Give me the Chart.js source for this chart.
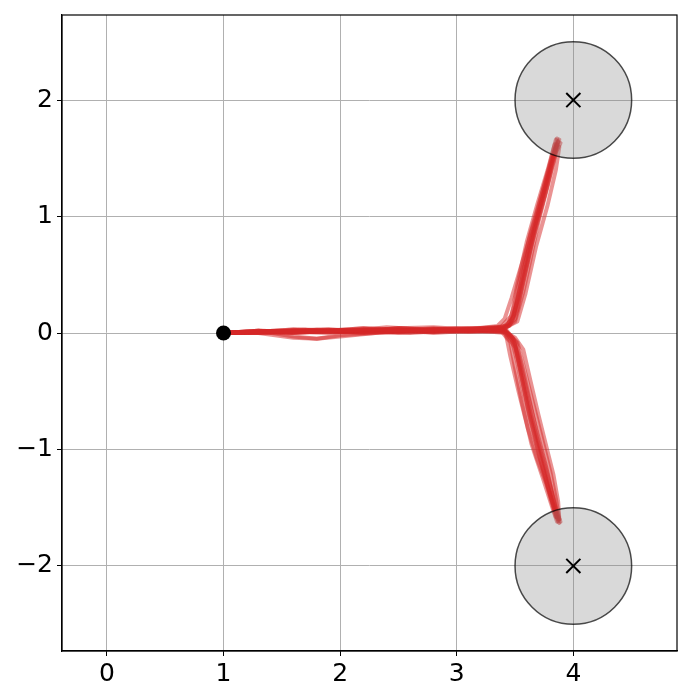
<!DOCTYPE html>
<html>
<head>
<meta charset="utf-8">
<script src="https://cdn.jsdelivr.net/npm/chart.js@4.4.1/dist/chart.umd.min.js"></script>
<style>
html,body{margin:0;padding:0;background:#fff;}
canvas{display:block;}
</style>
</head>
<body>
<canvas id="c" width="700" height="700"></canvas>
<script>
// ---- data ----
const xTicks = [0, 1, 2, 3, 4];
const yTicks = [-2, -1, 0, 1, 2];
const xRange = [-0.385, 4.889];
const yRange = [-2.73, 2.73];

const startPoint = [1, 0];
const goalX = [4, 4];
const goalY = [2, -2];
const goalRadius = 0.5;

// trajectories heading to the upper goal
const upRun1 = [[1,0],[1.25,0.01],[1.5,0.02],[1.75,0.01],[2.0,0.02],[2.3,0.03],[2.6,0.02],[2.9,0.03],[3.2,0.03],[3.42,0.04],[3.5,0.12],[3.56,0.4],[3.64,0.75],[3.72,1.05],[3.8,1.35],[3.86,1.6],[3.88,1.66]];
const upRun2 = [[1,0],[1.3,0.02],[1.6,0.0],[1.9,0.02],[2.2,0.04],[2.5,0.02],[2.8,0.04],[3.1,0.02],[3.38,0.05],[3.47,0.15],[3.52,0.42],[3.6,0.78],[3.69,1.1],[3.78,1.4],[3.84,1.62]];
const upRun3 = [[1,0],[1.3,0.0],[1.6,-0.04],[1.8,-0.05],[2.0,-0.02],[2.3,0.0],[2.6,0.03],[2.9,0.02],[3.2,0.04],[3.45,0.06],[3.52,0.2],[3.59,0.52],[3.67,0.88],[3.76,1.2],[3.83,1.5],[3.87,1.64]];
const upRun4 = [[1,0],[1.2,0.01],[1.5,0.01],[1.8,0.03],[2.1,0.02],[2.4,0.05],[2.7,0.03],[3.0,0.04],[3.3,0.03],[3.44,0.07],[3.49,0.22],[3.55,0.5],[3.63,0.85],[3.73,1.2],[3.81,1.48],[3.86,1.62]];
const upRun5 = [[1,0],[1.4,0.01],[1.7,0.03],[2.0,0.01],[2.3,0.02],[2.6,0.0],[2.9,0.02],[3.2,0.02],[3.4,0.03],[3.5,0.1],[3.57,0.35],[3.63,0.62],[3.7,0.95],[3.79,1.3],[3.85,1.55],[3.89,1.63]];
const upRun6 = [[1,0],[1.3,0.01],[1.6,0.02],[1.9,0.03],[2.2,0.01],[2.5,0.04],[2.8,0.02],[3.1,0.03],[3.35,0.06],[3.41,0.12],[3.47,0.3],[3.56,0.6],[3.68,1.0],[3.8,1.46],[3.85,1.66]];
const upRun7 = [[1,0],[1.3,0.02],[1.6,0.01],[1.9,0.02],[2.2,0.03],[2.5,0.01],[2.8,0.03],[3.1,0.04],[3.4,0.04],[3.52,0.1],[3.59,0.34],[3.68,0.74],[3.78,1.1],[3.85,1.4],[3.88,1.6]];
const upRun8 = [[1,0],[1.3,0.0],[1.6,0.02],[1.9,0.01],[2.2,0.02],[2.5,0.03],[2.8,0.01],[3.1,0.02],[3.38,0.03],[3.46,0.08],[3.53,0.3],[3.6,0.6],[3.68,0.95],[3.77,1.28],[3.84,1.55],[3.86,1.67]];
const upRun9 = [[1,0],[1.3,0.01],[1.6,0.0],[1.9,0.02],[2.2,0.02],[2.5,0.04],[2.8,0.05],[3.1,0.03],[3.42,0.05],[3.49,0.15],[3.55,0.42],[3.62,0.74],[3.71,1.08],[3.8,1.4],[3.85,1.6]];
const upRun10 = [[1,0],[1.3,0.01],[1.6,0.03],[1.9,0.02],[2.2,0.0],[2.5,0.02],[2.8,0.03],[3.1,0.04],[3.4,0.05],[3.48,0.12],[3.54,0.38],[3.61,0.7],[3.7,1.02],[3.78,1.35],[3.84,1.58],[3.87,1.65]];

// trajectories heading to the lower goal
const downRun1 = [[1,0],[1.3,0.01],[1.6,0.02],[1.9,0.01],[2.2,0.02],[2.5,0.01],[2.8,0.03],[3.1,0.02],[3.4,0.02],[3.47,-0.05],[3.52,-0.25],[3.58,-0.55],[3.66,-0.88],[3.74,-1.18],[3.82,-1.45],[3.87,-1.6]];
const downRun2 = [[1,0],[1.3,0.0],[1.6,0.01],[1.9,0.02],[2.2,0.0],[2.5,0.02],[2.8,0.01],[3.1,0.03],[3.42,0.01],[3.5,-0.1],[3.55,-0.35],[3.62,-0.7],[3.7,-1.02],[3.78,-1.32],[3.85,-1.56],[3.88,-1.63]];
const downRun3 = [[1,0],[1.3,0.01],[1.6,0.0],[1.9,0.02],[2.2,0.03],[2.5,0.02],[2.8,0.02],[3.1,0.01],[3.4,0.02],[3.5,-0.04],[3.57,-0.14],[3.63,-0.4],[3.7,-0.7],[3.77,-0.98],[3.83,-1.22],[3.87,-1.45],[3.88,-1.6]];
const downRun4 = [[1,0],[1.3,0.02],[1.6,-0.03],[1.8,-0.05],[2.0,-0.03],[2.3,0.0],[2.6,0.02],[2.9,0.02],[3.2,0.02],[3.42,0.0],[3.46,-0.2],[3.53,-0.5],[3.61,-0.82],[3.69,-1.08],[3.77,-1.3],[3.85,-1.58]];
const downRun5 = [[1,0],[1.3,0.01],[1.6,0.01],[1.9,0.0],[2.2,0.02],[2.5,0.01],[2.8,0.02],[3.1,0.01],[3.38,0.02],[3.46,-0.08],[3.5,-0.3],[3.56,-0.6],[3.64,-0.95],[3.74,-1.25],[3.82,-1.5],[3.86,-1.62]];
const downRun6 = [[1,0],[1.3,0.0],[1.6,0.02],[1.9,0.01],[2.2,0.01],[2.5,0.03],[2.8,0.0],[3.1,0.02],[3.4,0.01],[3.5,-0.12],[3.57,-0.4],[3.64,-0.72],[3.72,-1.02],[3.8,-1.32],[3.86,-1.55],[3.89,-1.62]];
const downRun7 = [[1,0],[1.3,0.01],[1.6,0.02],[1.9,0.01],[2.2,0.02],[2.5,0.02],[2.8,0.01],[3.1,0.03],[3.42,0.02],[3.52,-0.08],[3.59,-0.35],[3.67,-0.66],[3.74,-0.94],[3.8,-1.18],[3.85,-1.42],[3.88,-1.6]];
const downRun8 = [[1,0],[1.3,0.02],[1.6,0.01],[1.9,0.02],[2.2,0.01],[2.5,0.0],[2.8,0.02],[3.1,0.02],[3.4,0.03],[3.48,-0.04],[3.53,-0.2],[3.6,-0.5],[3.68,-0.82],[3.76,-1.12],[3.83,-1.42],[3.86,-1.58]];
const downRun9 = [[1,0],[1.3,0.01],[1.6,0.03],[1.9,0.02],[2.2,0.04],[2.5,0.03],[2.8,0.02],[3.1,0.03],[3.43,0.02],[3.49,-0.06],[3.54,-0.3],[3.61,-0.64],[3.69,-0.96],[3.77,-1.26],[3.84,-1.52],[3.87,-1.62]];
const downRun10 = [[1,0],[1.3,0.0],[1.6,0.01],[1.9,0.03],[2.2,0.02],[2.5,0.04],[2.8,0.03],[3.1,0.02],[3.41,0.03],[3.51,-0.08],[3.56,-0.28],[3.63,-0.6],[3.7,-0.92],[3.78,-1.22],[3.85,-1.5],[3.88,-1.6]];

const allRuns = [upRun1, upRun2, upRun3, upRun4, upRun5, upRun6, upRun7, upRun8, upRun9, upRun10,
                 downRun1, downRun2, downRun3, downRun4, downRun5, downRun6, downRun7, downRun8, downRun9, downRun10];

// ---- chart ----
const FONT = {family: "'DejaVu Sans', sans-serif", size: 25};
const toPts = arr => arr.map(p => ({x: p[0], y: p[1]}));

const datasets = [];
datasets.push({
  data: goalX.map((x, i) => ({x: x, y: goalY[i]})),
  showLine: false, pointStyle: 'crossRot', pointRadius: 10,
  borderColor: '#000', borderWidth: 2, backgroundColor: '#000', order: 0
});
datasets.push({
  data: [{x: startPoint[0], y: startPoint[1]}],
  showLine: false, pointStyle: 'circle', pointRadius: 7.5,
  backgroundColor: '#000', borderColor: '#000', borderWidth: 0, order: 1
});
datasets.push({
  data: goalX.map((x, i) => ({x: x, y: goalY[i]})),
  showLine: false, pointStyle: 'circle',
  pointRadius: ctx => {
    const s = ctx.chart.scales.x;
    return Math.abs(s.getPixelForValue(goalX[0] + goalRadius) - s.getPixelForValue(goalX[0]));
  },
  backgroundColor: 'rgba(128,128,128,0.3)', borderColor: 'rgba(0,0,0,0.7)', borderWidth: 1.5, order: 2
});
allRuns.forEach(run => {
  datasets.push({
    data: toPts(run), showLine: true, tension: 0, pointRadius: 0,
    borderColor: 'rgba(214,39,40,0.5)', borderWidth: 4,
    borderJoinStyle: 'round', borderCapStyle: 'round', fill: false, order: 3
  });
});

const framePlugin = {
  id: 'frame',
  afterDraw(chart) {
    const a = chart.chartArea, c = chart.ctx;
    c.save();
    c.strokeStyle = '#000'; c.lineWidth = 1.2;
    c.strokeRect(a.left, a.top, a.right - a.left, a.bottom - a.top);
    c.restore();
  }
};

new Chart(document.getElementById('c'), {
  type: 'scatter',
  data: {datasets},
  plugins: [framePlugin],
  options: {
    responsive: false, animation: false, devicePixelRatio: 1,
    layout: {padding: {top: 15, right: 23, left: 0, bottom: 0}},
    plugins: {legend: {display: false}, tooltip: {enabled: false}},
    scales: {
      x: {
        type: 'linear', min: xRange[0], max: xRange[1],
        afterBuildTicks: s => { s.ticks = xTicks.map(v => ({value: v})); },
        afterFit: s => { s.height = 49; s.paddingLeft = 0; s.paddingRight = 0; },
        grid: {color: '#b0b0b0', lineWidth: 1, drawTicks: true, tickLength: 5, tickColor: '#000', tickWidth: 1},
        border: {color: '#000', width: 1.2},
        ticks: {font: FONT, color: '#000', padding: 3, maxRotation: 0,
                callback: v => String(v)}
      },
      y: {
        type: 'linear', min: yRange[0], max: yRange[1],
        afterBuildTicks: s => { s.ticks = yTicks.map(v => ({value: v})); },
        afterFit: s => { s.width = 62; s.paddingTop = 0; s.paddingBottom = 0; },
        grid: {color: '#b0b0b0', lineWidth: 1, drawTicks: true, tickLength: 5, tickColor: '#000', tickWidth: 1},
        border: {color: '#000', width: 1.2},
        ticks: {font: FONT, color: '#000', padding: 4,
                callback: v => (v < 0 ? '\u2212' + Math.abs(v) : String(v))}
      }
    }
  }
});
</script>
</body>
</html>
